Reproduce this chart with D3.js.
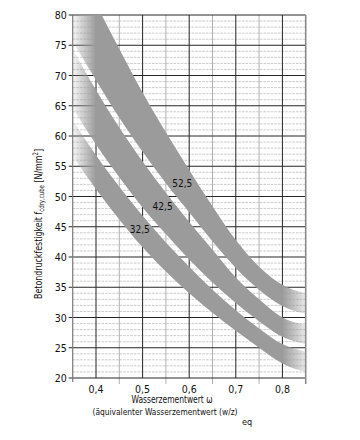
<!DOCTYPE html>
<html>
<head>
<meta charset="utf-8">
<script src="https://cdn.jsdelivr.net/npm/d3@7/dist/d3.min.js"></script>
<style>
  body { margin: 0; background: #fff; }
  svg { display: block; font-family: "Liberation Sans Narrow", "DejaVu Sans Condensed", "Liberation Sans", sans-serif; }
</style>
</head>
<body>
<div id="chart"></div>
<script>
const wzSteps = [0.35, 0.40, 0.45, 0.50, 0.55, 0.60, 0.65, 0.70, 0.75, 0.80, 0.85];

// cement class 52,5
const band525Upper = [89.0, 81.8, 74.4, 67.2, 60.6, 54.4, 48.4, 42.8, 38.4, 35.4, 34.0];
const band525Lower = [75.6, 69.2, 63.0, 57.4, 52.2, 47.4, 42.6, 38.2, 34.6, 31.9, 30.6];
// cement class 42,5
const band425Upper = [74.3, 67.6, 61.4, 55.8, 50.6, 45.8, 41.2, 36.6, 33.0, 30.0, 28.8];
const band425Lower = [64.6, 58.6, 53.2, 48.2, 43.8, 39.6, 35.8, 32.4, 29.4, 26.8, 25.6];
// cement class 32,5
const band325Upper = [62.6, 56.8, 51.6, 46.8, 42.4, 38.4, 34.6, 31.2, 28.2, 25.6, 24.4];
const band325Lower = [56.6, 51.2, 46.2, 41.6, 37.6, 34.0, 30.8, 27.8, 25.0, 22.4, 21.0];

const classNames = ['52,5', '42,5', '32,5'];
const classLabelWz = [0.585, 0.543, 0.494];
const classLabelFc = [52.1, 48.4, 44.6];

const yTicks = [20, 25, 30, 35, 40, 45, 50, 55, 60, 65, 70, 75, 80];
const xTicks = [0.4, 0.5, 0.6, 0.7, 0.8];
const xMinor = [0.45, 0.55, 0.65, 0.75];

const width = 360;
const height = 440;
const plot = { left: 72.7, right: 305.7, top: 15, bottom: 378 };

const x = d3.scaleLinear().domain([0.35, 0.85]).range([plot.left, plot.right]);
const y = d3.scaleLinear().domain([20, 80]).range([plot.bottom, plot.top]);

const bandGray = '#9b9b9b';
const gridDark = '#262626';
const gridMinor = '#a8a8a8';
const textColor = '#111';

const svg = d3.select('#chart')
  .append('svg')
  .attr('width', width)
  .attr('height', height);

const defs = svg.append('defs');

defs.append('clipPath')
  .attr('id', 'plot-clip')
  .append('rect')
  .attr('x', plot.left)
  .attr('y', plot.top)
  .attr('width', plot.right - plot.left)
  .attr('height', plot.bottom - plot.top);

// bands fade out at both ends of the w/z range
const fade = defs.append('linearGradient')
  .attr('id', 'band-fade')
  .attr('gradientUnits', 'userSpaceOnUse')
  .attr('x1', x(0.35)).attr('x2', x(0.85))
  .attr('y1', 0).attr('y2', 0);

[[0, 0.08], [0.1, 1], [0.9, 1], [1, 0.22]].forEach(([offset, opacity]) => {
  fade.append('stop')
    .attr('offset', offset)
    .attr('stop-color', bandGray)
    .attr('stop-opacity', opacity);
});

/* Grid */
const grid = svg.append('g').attr('class', 'grid');

const minorFc = d3.range(21, 80).filter((v) => v % 5 !== 0);
grid.selectAll('line.minor-h')
  .data(minorFc)
  .join('line')
  .attr('class', 'minor-h')
  .attr('x1', plot.left).attr('x2', plot.right)
  .attr('y1', (d) => y(d)).attr('y2', (d) => y(d))
  .attr('stroke', '#b4b4b4')
  .attr('stroke-width', 0.7)
  .attr('stroke-dasharray', '2.6,1');

grid.selectAll('line.minor-v')
  .data(xMinor)
  .join('line')
  .attr('class', 'minor-v')
  .attr('x1', (d) => x(d)).attr('x2', (d) => x(d))
  .attr('y1', plot.top).attr('y2', plot.bottom + 6)
  .attr('stroke', gridMinor)
  .attr('stroke-width', 0.9);

grid.selectAll('line.major-v')
  .data(xTicks)
  .join('line')
  .attr('class', 'major-v')
  .attr('x1', (d) => x(d)).attr('x2', (d) => x(d))
  .attr('y1', plot.top).attr('y2', plot.bottom)
  .attr('stroke', gridDark)
  .attr('stroke-width', 1);

grid.selectAll('line.major-h')
  .data(yTicks)
  .join('line')
  .attr('class', 'major-h')
  .attr('x1', plot.left - 4).attr('x2', plot.right)
  .attr('y1', (d) => y(d)).attr('y2', (d) => y(d))
  .attr('stroke', gridDark)
  .attr('stroke-width', 1);

// frame sides
grid.append('line')
  .attr('x1', plot.left).attr('x2', plot.left)
  .attr('y1', plot.top).attr('y2', plot.bottom + 4)
  .attr('stroke', '#7a7a7a').attr('stroke-width', 1.2);
grid.append('line')
  .attr('x1', plot.right).attr('x2', plot.right)
  .attr('y1', plot.top).attr('y2', plot.bottom + 6)
  .attr('stroke', '#8a8a8a').attr('stroke-width', 1.6);

/* Bands */
const bands = [
  { upper: band525Upper, lower: band525Lower },
  { upper: band425Upper, lower: band425Lower },
  { upper: band325Upper, lower: band325Lower },
];

const area = d3.area()
  .x((d) => x(d.wz))
  .y0((d) => y(d.lo))
  .y1((d) => y(d.hi))
  .curve(d3.curveMonotoneX);

const bandGroup = svg.append('g').attr('clip-path', 'url(#plot-clip)');
bands.forEach((band) => {
  const values = wzSteps.map((wz, i) => ({ wz, hi: band.upper[i], lo: band.lower[i] }));
  bandGroup.append('path')
    .datum(values)
    .attr('fill', 'url(#band-fade)')
    .attr('d', area);
});

/* Class labels */
svg.append('g')
  .selectAll('text')
  .data(classNames)
  .join('text')
  .attr('x', (d, i) => x(classLabelWz[i]))
  .attr('y', (d, i) => y(classLabelFc[i]))
  .attr('text-anchor', 'middle')
  .attr('dominant-baseline', 'central')
  .attr('font-size', 10)
  .attr('fill', textColor)
  .text((d) => d);

/* Tick labels */
const commaFormat = (fmt) => (v) => d3.format(fmt)(v).replace('.', ',');

svg.append('g')
  .selectAll('text')
  .data(yTicks)
  .join('text')
  .attr('x', plot.left - 6)
  .attr('y', (d) => y(d))
  .attr('text-anchor', 'end')
  .attr('dominant-baseline', 'central')
  .attr('font-size', 10.5)
  .attr('fill', textColor)
  .text((d) => d);

svg.append('g')
  .selectAll('text')
  .data(xTicks)
  .join('text')
  .attr('x', (d) => x(d))
  .attr('y', plot.bottom + 15)
  .attr('text-anchor', 'middle')
  .attr('font-size', 10.5)
  .attr('fill', textColor)
  .text(commaFormat('.1f'));

/* Axis titles */
const yTitle = svg.append('text')
  .attr('transform', 'translate(42, 224) rotate(-90)')
  .attr('text-anchor', 'middle')
  .attr('font-size', 11)
  .attr('textLength', 150)
  .attr('lengthAdjust', 'spacingAndGlyphs')
  .attr('fill', textColor);
yTitle.append('tspan').text('Betondruckfestigkeit f');
yTitle.append('tspan').attr('font-size', 7.5).attr('dy', 2).text('cdry,cube');
yTitle.append('tspan').attr('dy', -2).text(' [N/mm');
yTitle.append('tspan').attr('font-size', 7.5).attr('dy', -4).text('2');
yTitle.append('tspan').attr('dy', 4).text(']');

svg.append('text')
  .attr('x', 131.5)
  .attr('y', 403)
  .attr('font-size', 10)
  .attr('textLength', 81)
  .attr('lengthAdjust', 'spacingAndGlyphs')
  .attr('fill', textColor)
  .text('Wasserzementwert ω');

svg.append('text')
  .attr('x', 92.5)
  .attr('y', 415)
  .attr('font-size', 9.5)
  .attr('textLength', 145)
  .attr('lengthAdjust', 'spacingAndGlyphs')
  .attr('fill', textColor)
  .text('(äquivalenter Wasserzementwert (w/z)');

svg.append('text')
  .attr('x', 242)
  .attr('y', 425)
  .attr('font-size', 9)
  .attr('fill', textColor)
  .text('eq');
</script>
</body>
</html>
